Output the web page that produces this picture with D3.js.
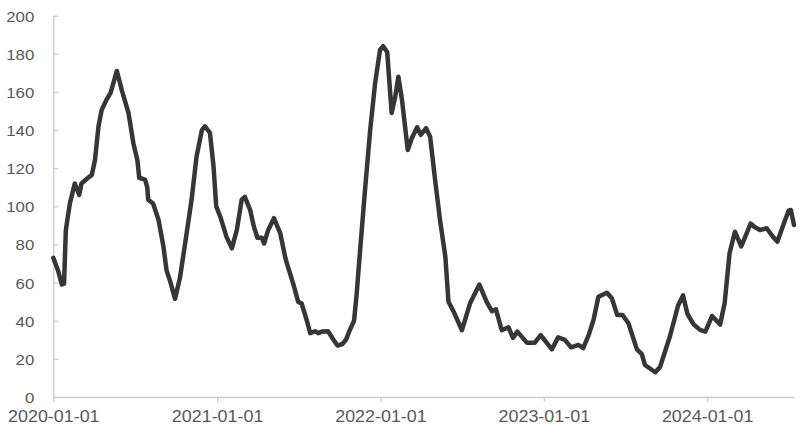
<!DOCTYPE html>
<html>
<head>
<meta charset="utf-8">
<script src="https://cdn.jsdelivr.net/npm/d3@7"></script>
<style>
  html, body { margin: 0; padding: 0; background: #fff; }
  svg { display: block; }
</style>
</head>
<body>
<svg id="chart" width="800" height="437"></svg>
<script>
const dates = [
  "2020-01-01","2020-01-12","2020-01-20","2020-01-25","2020-01-29","2020-02-07","2020-02-18","2020-02-28",
  "2020-03-04","2020-03-16","2020-03-27","2020-04-03","2020-04-11","2020-04-18","2020-04-29","2020-05-08",
  "2020-05-22","2020-06-02","2020-06-17","2020-06-28","2020-07-07","2020-07-11","2020-07-24","2020-07-29",
  "2020-07-31","2020-08-11","2020-08-23","2020-09-03","2020-09-10","2020-09-19","2020-09-29","2020-10-10",
  "2020-10-25","2020-11-05","2020-11-16","2020-11-28","2020-12-05","2020-12-16","2020-12-24","2020-12-30",
  "2021-01-09","2021-01-22","2021-02-03","2021-02-14","2021-02-25","2021-03-04","2021-03-16","2021-03-24",
  "2021-04-01","2021-04-11","2021-04-16","2021-04-25","2021-05-08","2021-05-22","2021-06-02","2021-06-06",
  "2021-06-20","2021-07-01","2021-07-09","2021-07-20","2021-07-28","2021-08-08","2021-08-15","2021-08-23",
  "2021-09-06","2021-09-18","2021-09-27","2021-10-08","2021-10-16","2021-10-23","2021-11-03","2021-11-09",
  "2021-11-16","2021-11-28","2021-12-09","2021-12-20","2021-12-31","2022-01-07","2022-01-16","2022-01-26",
  "2022-02-03","2022-02-10","2022-02-18","2022-03-03","2022-03-12","2022-03-24","2022-04-01","2022-04-13",
  "2022-04-22","2022-05-03","2022-05-14","2022-05-26","2022-06-02","2022-06-13","2022-07-02","2022-07-20",
  "2022-08-10","2022-08-26","2022-09-07","2022-09-16","2022-09-29","2022-10-14","2022-10-24","2022-11-03",
  "2022-11-24","2022-12-12","2022-12-25","2023-01-19","2023-02-02","2023-02-17","2023-03-03","2023-03-19",
  "2023-03-30","2023-04-11","2023-04-22","2023-05-03","2023-05-22","2023-06-02","2023-06-14","2023-06-26",
  "2023-07-09","2023-07-28","2023-08-08","2023-08-15","2023-09-07","2023-09-18","2023-10-10","2023-10-28",
  "2023-11-08","2023-11-18","2023-12-02","2023-12-16","2023-12-28","2024-01-12","2024-01-30","2024-02-09",
  "2024-02-20","2024-03-03","2024-03-17","2024-03-26","2024-04-07","2024-04-15","2024-04-28","2024-05-13",
  "2024-05-27","2024-06-06","2024-06-19","2024-07-01","2024-07-06","2024-07-13"
];
const values = [
  73, 66, 59, 59.5, 87.5, 101.5, 112, 106,
  112, 114.5, 116.5, 124, 142, 150.5, 156, 159.5,
  171, 161, 149, 133, 124, 115, 114, 110,
  103.5, 101.5, 93, 79, 66.5, 60, 51.5, 62.5,
  86, 103.5, 126, 140, 142, 138.5, 121, 100,
  94, 84, 78, 87.5, 103.5, 105, 98, 89.5,
  83.5, 83.5, 80.5, 87.5, 93.8, 86, 73.5, 70,
  59.5, 50, 49, 40.5, 33.5, 34.5, 33.5, 34.3,
  34.5, 30, 27, 27.8, 30, 34.3, 40, 54.5,
  75.5, 110, 140, 164.5, 182, 184, 181, 149,
  157.5, 168, 156, 129.5, 135.7, 141.5, 137.5, 141,
  136.5, 114, 93, 73.5, 50, 45, 35, 49,
  59, 50, 45, 46, 35, 36.6, 31, 34.3,
  28.5, 28.5, 32.5, 25, 31.3, 30, 26, 27.3,
  25.6, 32.3, 40.4, 52.6, 54.7, 51.8, 43, 43,
  38.7, 25, 22.5, 16.8, 13, 15.9, 32, 48,
  53.3, 43.5, 38, 35.2, 34.3, 42.5, 38, 49.2,
  75.4, 86.7, 79, 84, 91, 89.3, 87.6, 88.5,
  84, 81.5, 90.2, 97.7, 98.1, 90.2
];
const xTickLabels = ["2020-01-01","2021-01-01","2022-01-01","2023-01-01","2024-01-01"];
const yTickValues = [0, 20, 40, 60, 80, 100, 120, 140, 160, 180, 200];

const parse = d3.utcParse("%Y-%m-%d");
const fmt = d3.utcFormat("%Y-%m-%d");
const data = dates.map((d, i) => ({ date: parse(d), value: values[i] }));

const svg = d3.select("#chart");
const x = d3.scaleUtc()
  .domain([parse("2020-01-01"), data[data.length - 1].date])
  .range([53.3, 794]);
const y = d3.scaleLinear().domain([0, 200]).range([397, 15.7]);

const axisColor = "#cccccc";
const textColor = "#595959";

// X axis
const gx = svg.append("g")
  .attr("transform", "translate(0,397)")
  .call(d3.axisBottom(x)
    .tickValues(xTickLabels.map(parse))
    .tickFormat(fmt)
    .tickSizeInner(5)
    .tickSizeOuter(0));
gx.select(".domain").attr("stroke", axisColor).attr("stroke-width", 1.3);
gx.selectAll(".tick line").attr("stroke", axisColor).attr("stroke-width", 1.3);
gx.selectAll(".tick text")
  .attr("y", 25).attr("dy", null)
  .attr("fill", textColor)
  .attr("font-family", "'Liberation Sans', Arial, sans-serif")
  .attr("font-size", 16)
  .attr("transform", "scale(1.12,1)");

// Y axis
const gy = svg.append("g")
  .attr("transform", "translate(53.3,0)")
  .call(d3.axisLeft(y)
    .tickValues(yTickValues)
    .tickSizeInner(-5)
    .tickSizeOuter(0)
    .tickPadding(17));
gy.select(".domain").attr("stroke", axisColor).attr("stroke-width", 1.3);
gy.selectAll(".tick line").attr("stroke", axisColor).attr("stroke-width", 1.3);
gy.selectAll(".tick").filter(d => d === 0).select("line").remove();
gy.selectAll(".tick text")
  .attr("fill", textColor)
  .attr("font-family", "'Liberation Sans', Arial, sans-serif")
  .attr("font-size", 15)
  .attr("dy", "0.36em")
  .attr("transform", "scale(1.12,1)");

// Line
const line = d3.line()
  .x(d => x(d.date))
  .y(d => y(d.value));
svg.append("path")
  .datum(data)
  .attr("fill", "none")
  .attr("stroke", "#363636")
  .attr("stroke-width", 4.5)
  .attr("stroke-linejoin", "round")
  .attr("stroke-linecap", "round")
  .attr("d", line);
</script>
</body>
</html>
